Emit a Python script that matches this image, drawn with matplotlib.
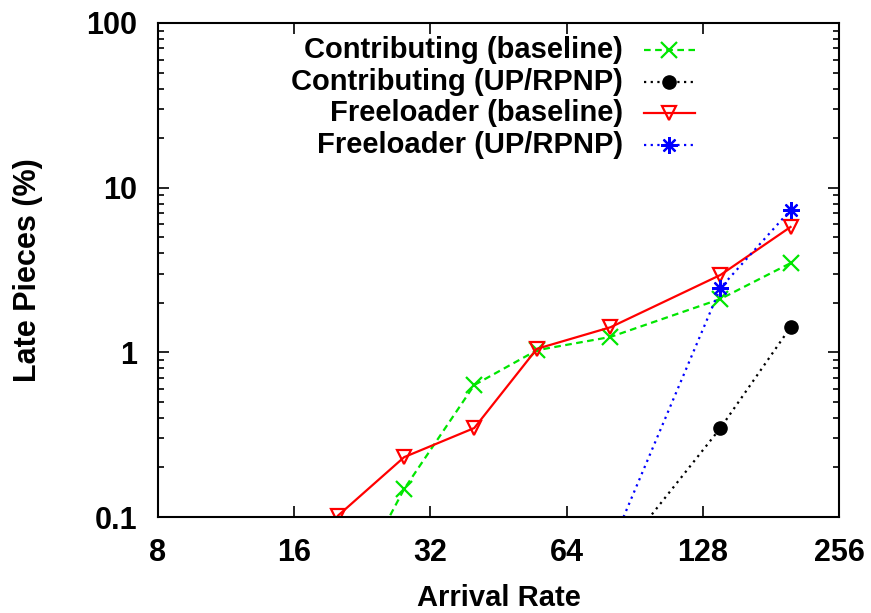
import matplotlib
matplotlib.use("Agg")
import matplotlib.pyplot as plt
from matplotlib.ticker import FixedLocator, NullFormatter, LogLocator

plt.rcParams['font.family'] = ['Liberation Sans', 'DejaVu Sans']
plt.rcParams['font.weight'] = 'bold'

# arrival rates (x) and late pieces in % (y)
contrib_base_x = [20, 28, 40, 55, 80, 140, 200]
contrib_base_y = [0.026, 0.148, 0.633, 1.03, 1.24, 2.11, 3.48]

contrib_up_x = [80, 140, 200]
contrib_up_y = [0.05, 0.347, 1.42]

free_base_x = [20, 28, 40, 55, 80, 140, 200]
free_base_y = [0.102, 0.231, 0.347, 1.05, 1.42, 2.95, 5.77]

free_up_x = [80, 140, 200]
free_up_y = [0.065, 2.46, 7.32]

xticks = [8, 16, 32, 64, 128, 256]
yticks = [0.1, 1, 10, 100]
ytick_labels = ["0.1", "1", "10", "100"]

FS = 21

fig = plt.figure(figsize=(8.71, 6.13), dpi=100)
ax = fig.add_axes([0.1814, 0.1566, 0.9633 - 0.1814, 0.9625 - 0.1566])

styles = [
    dict(color='#00e600', ls=(0, (3, 2)), marker='x', ms=11, mew=1.6, mfc='#00e600'),
    dict(color='black', ls=(0, (1, 2)), marker='o', ms=9.5, mew=1.0, mfc='black'),
    dict(color='red', ls='-', marker='v', ms=10, mew=1.6, mfc='none'),
    dict(color='blue', ls=(0, (1, 2)), marker=(8, 2, 0), ms=12, mew=1.6, mfc='blue'),
]
labels = ['Contributing (baseline)', 'Contributing (UP/RPNP)',
          'Freeloader (baseline)', 'Freeloader (UP/RPNP)']
series = [(contrib_base_x, contrib_base_y), (contrib_up_x, contrib_up_y),
          (free_base_x, free_base_y), (free_up_x, free_up_y)]

for (xs, ys), st in zip(series, styles):
    ax.plot(xs, ys, lw=1.6, **st)

ax.set_xscale('log', base=2)
ax.set_yscale('log')
ax.set_xlim(8, 256)
ax.set_ylim(0.1, 100)

ax.xaxis.set_major_locator(FixedLocator(xticks))
ax.set_xticklabels([str(t) for t in xticks])
ax.xaxis.set_minor_locator(FixedLocator([]))
ax.yaxis.set_major_locator(FixedLocator(yticks))
ax.set_yticklabels(ytick_labels)
ax.yaxis.set_minor_locator(LogLocator(base=10, subs=range(2, 10)))
ax.yaxis.set_minor_formatter(NullFormatter())

ax.tick_params(which='both', direction='in', top=True, right=True, labelsize=22, width=1.2)
ax.tick_params(which='major', length=8)
ax.tick_params(which='minor', length=4)
ax.tick_params(axis='y', which='major', pad=15)
ax.tick_params(axis='x', which='major', pad=15)
for s in ax.spines.values():
    s.set_linewidth(1.5)

ax.set_xlabel('Arrival Rate', fontsize=FS, fontweight='bold')
ax.set_ylabel('Late Pieces (%)', fontsize=22, fontweight='bold')
ax.xaxis.set_label_coords(0.5, -0.136)
ax.yaxis.set_label_coords(-0.169, 0.5)

# gnuplot-style key: right-aligned text, sample to the right
key_y = [0.945, 0.881, 0.818, 0.753]
for lab, st, y in zip(labels, styles, key_y):
    ax.text(0.683, y, lab, transform=ax.transAxes, ha='right', va='center',
            fontsize=FS, fontweight='bold')
    ax.plot([0.713, 0.789], [y, y], transform=ax.transAxes, color=st['color'],
            ls=st['ls'], lw=1.6)
    ax.plot([0.751], [y], transform=ax.transAxes, color=st['color'], ls='none',
            marker=st['marker'], ms=st['ms'], mew=st['mew'], mfc=st['mfc'])

fig.savefig('out.png', dpi=100)
